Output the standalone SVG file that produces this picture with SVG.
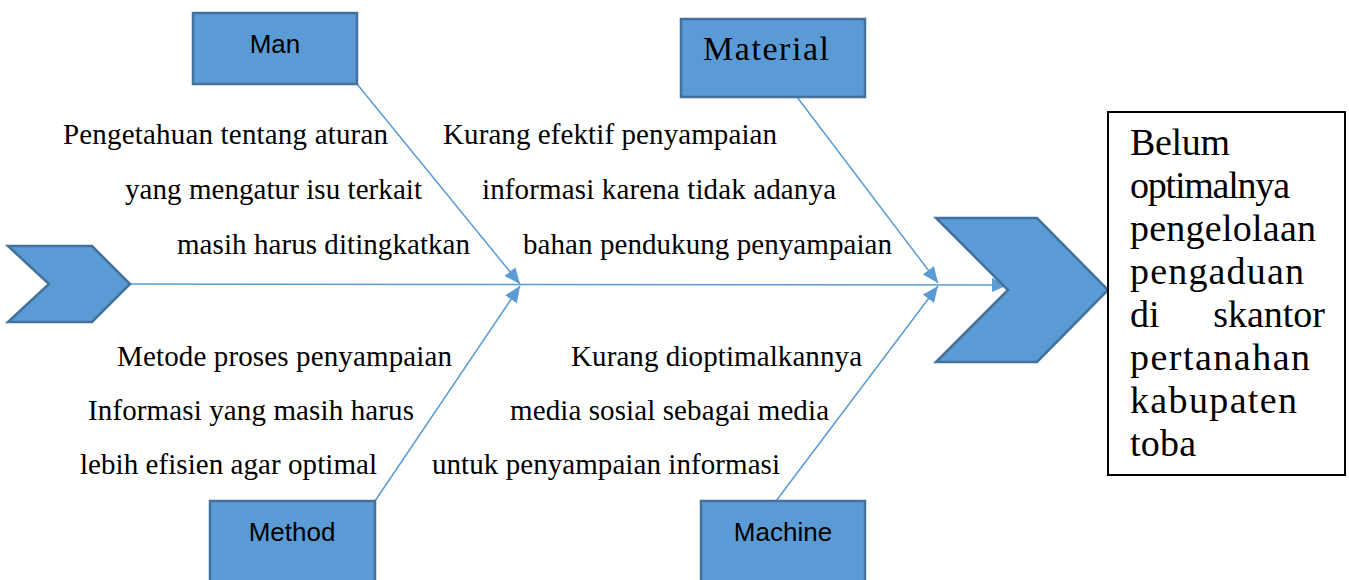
<svg xmlns="http://www.w3.org/2000/svg" width="1349" height="580" viewBox="0 0 1349 580">
<defs>
<marker id="ah" markerUnits="userSpaceOnUse" markerWidth="18" markerHeight="14" refX="16" refY="7" orient="auto">
<path d="M0,0 L16,7 L0,14 Z" fill="#5B9BD5"/>
</marker>
<style>
.box{fill:#5B9BD5;stroke:#41719C;stroke-width:2.5}
.con{stroke:#5B9BD5;stroke-width:1.5;fill:none;marker-end:url(#ah)}
.lbl{font-family:"Liberation Sans",Arial,sans-serif;font-size:26px;fill:#000;text-anchor:middle}
.t{font-family:"Liberation Serif","Times New Roman",serif;font-size:29px;fill:#000}
.r{font-family:"Liberation Serif","Times New Roman",serif;font-size:38px;fill:#000}
</style>
</defs>
<rect width="1349" height="580" fill="#fff"/>
<g id="connectors">
<line class="con" x1="130" y1="284" x2="1008" y2="285"/>
<line class="con" x1="357" y1="84" x2="520" y2="284"/>
<line class="con" x1="375" y1="501" x2="520" y2="286"/>
<line class="con" x1="797" y1="97" x2="938" y2="283"/>
<line class="con" x1="776" y1="501" x2="938" y2="286"/>
</g>
<g id="tail">
<polygon class="box" points="8,246 92,246 130,284 92,322 8,322 49,284"/>
</g>
<g id="head">
<polygon class="box" points="936,218 1037,218 1108,290 1037,362 936,362 1008,290"/>
</g>
<g id="man">
<rect class="box" x="193" y="13" width="164" height="71"/>
<text class="lbl" x="275" y="53">Man</text>
</g>
<g id="material">
<rect class="box" x="681" y="19" width="184" height="78"/>
<text x="766" y="60" font-family="Liberation Serif,'Times New Roman',serif" font-size="34" text-anchor="middle" textLength="126">Material</text>
</g>
<g id="method">
<rect class="box" x="210" y="501" width="165" height="90"/>
<text class="lbl" x="292" y="541">Method</text>
</g>
<g id="machine">
<rect class="box" x="701" y="501" width="164" height="90"/>
<text class="lbl" x="783" y="541">Machine</text>
</g>
<g id="man-cause">
<text class="t" x="63" y="144" textLength="325">Pengetahuan tentang aturan</text>
<text class="t" x="125" y="199" textLength="297">yang mengatur isu terkait</text>
<text class="t" x="177" y="254" textLength="293">masih harus ditingkatkan</text>
</g>
<g id="material-cause">
<text class="t" x="443" y="144" textLength="334">Kurang efektif penyampaian</text>
<text class="t" x="482" y="199" textLength="354">informasi karena tidak adanya</text>
<text class="t" x="523" y="254" textLength="369">bahan pendukung penyampaian</text>
</g>
<g id="method-cause">
<text class="t" x="117" y="366" textLength="335">Metode proses penyampaian</text>
<text class="t" x="88" y="420" textLength="326">Informasi yang masih harus</text>
<text class="t" x="80" y="474" textLength="297">lebih efisien agar optimal</text>
</g>
<g id="machine-cause">
<text class="t" x="571" y="366" textLength="291">Kurang dioptimalkannya</text>
<text class="t" x="510" y="420" textLength="319">media sosial sebagai media</text>
<text class="t" x="432" y="474" textLength="348">untuk penyampaian informasi</text>
</g>
<g id="effect">
<rect x="1108" y="112" width="237" height="363" fill="#fff" stroke="#000" stroke-width="2"/>
<text class="r" x="1130" y="155" textLength="100">Belum</text>
<text class="r" x="1130" y="198" textLength="160">optimalnya</text>
<text class="r" x="1130" y="241" textLength="186">pengelolaan</text>
<text class="r" x="1130" y="284" textLength="174">pengaduan</text>
<text class="r" x="1130" y="327">di</text>
<text class="r" x="1325" y="327" text-anchor="end">skantor</text>
<text class="r" x="1130" y="370" textLength="180">pertanahan</text>
<text class="r" x="1130" y="413" textLength="167">kabupaten</text>
<text class="r" x="1130" y="456" textLength="66">toba</text>
</g>
</svg>
